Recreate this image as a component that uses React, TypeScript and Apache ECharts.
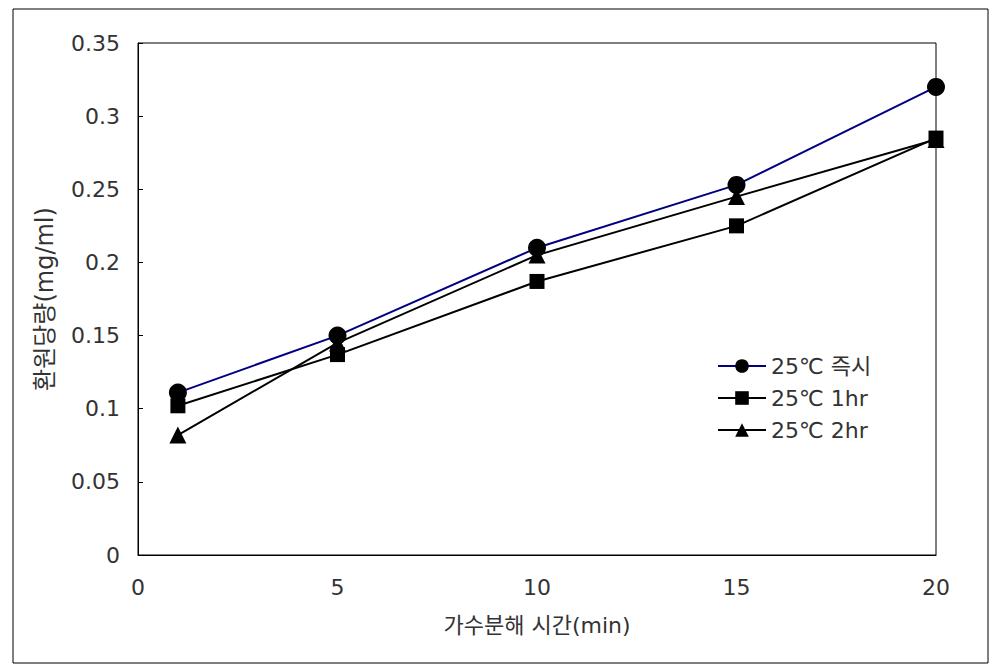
import React, { useEffect, useRef } from "react";
import * as echarts from "echarts";

const xValues = [1, 5, 10, 15, 20];
const seriesNames = ["25℃ 즉시", "25℃ 1hr", "25℃ 2hr"];
const immediate = [0.111, 0.15, 0.21, 0.253, 0.32];
const oneHour = [0.102, 0.137, 0.187, 0.225, 0.285];
const twoHour = [0.082, 0.145, 0.205, 0.245, 0.284];
const xTitle = "가수분해 시간(min)";
const yTitle = "환원당량(mg/ml)";

const FONT = "'DejaVu Sans', 'Noto Sans CJK KR', sans-serif";

export default function App() {
  const ref = useRef<HTMLDivElement>(null);
  useEffect(() => {
    if (!ref.current) return;
    const chart = echarts.init(ref.current, null, { renderer: "svg" });
    const mk = (vals: number[]) => xValues.map((x, i) => [x, vals[i]]);
    chart.setOption({
      animation: false,
      backgroundColor: "#fff",
      textStyle: { fontFamily: FONT },
      graphic: [
        {
          type: "rect",
          shape: { x: 13, y: 9, width: 975, height: 654 },
          style: { fill: "none", stroke: "#000", lineWidth: 1 },
          silent: true,
        },
      ],
      grid: {
        left: 138,
        top: 43,
        width: 798,
        height: 512,
        show: true,
        borderColor: "#000",
        borderWidth: 1,
        backgroundColor: "transparent",
      },
      legend: {
        orient: "vertical",
        left: 712,
        top: 350,
        itemWidth: 48,
        itemHeight: 17,
        itemGap: 10,
        textStyle: { fontSize: 22, color: "#333", fontFamily: FONT },
        data: seriesNames,
      },
      xAxis: {
        type: "value",
        min: 0,
        max: 20,
        interval: 5,
        name: xTitle,
        nameLocation: "middle",
        nameGap: 59,
        nameTextStyle: { fontSize: 22, color: "#333", fontFamily: FONT },
        axisLine: { show: true, lineStyle: { color: "#000" } },
        axisTick: { show: false },
        splitLine: { show: false },
        axisLabel: { fontSize: 22, color: "#333", margin: 21, fontFamily: FONT },
      },
      yAxis: {
        type: "value",
        min: 0,
        max: 0.35,
        interval: 0.05,
        name: yTitle,
        nameLocation: "middle",
        nameGap: 81,
        nameRotate: 90,
        nameTextStyle: { fontSize: 24, color: "#333", fontFamily: FONT },
        axisLine: { show: true, lineStyle: { color: "#000" } },
        axisTick: { show: true, inside: true, length: 5, lineStyle: { color: "#000" } },
        splitLine: { show: false },
        axisLabel: { fontSize: 22, color: "#333", margin: 18, fontFamily: FONT },
      },
      series: [
        {
          name: seriesNames[0],
          type: "line",
          data: mk(immediate),
          symbol: "circle",
          symbolSize: 18,
          itemStyle: { color: "#000" },
          lineStyle: { color: "#000080", width: 2 },
          z: 3,
        },
        {
          name: seriesNames[1],
          type: "line",
          data: mk(oneHour),
          symbol: "rect",
          symbolSize: 15,
          itemStyle: { color: "#000" },
          lineStyle: { color: "#000", width: 2 },
          z: 2,
        },
        {
          name: seriesNames[2],
          type: "line",
          data: mk(twoHour),
          symbol: "triangle",
          symbolSize: 17,
          itemStyle: { color: "#000" },
          lineStyle: { color: "#000", width: 2 },
          z: 2,
        },
      ],
    });
    return () => chart.dispose();
  }, []);
  return (
    <div
      ref={ref}
      style={{ position: "absolute", left: 0, top: 0, width: 1005, height: 672 }}
    />
  );
}
